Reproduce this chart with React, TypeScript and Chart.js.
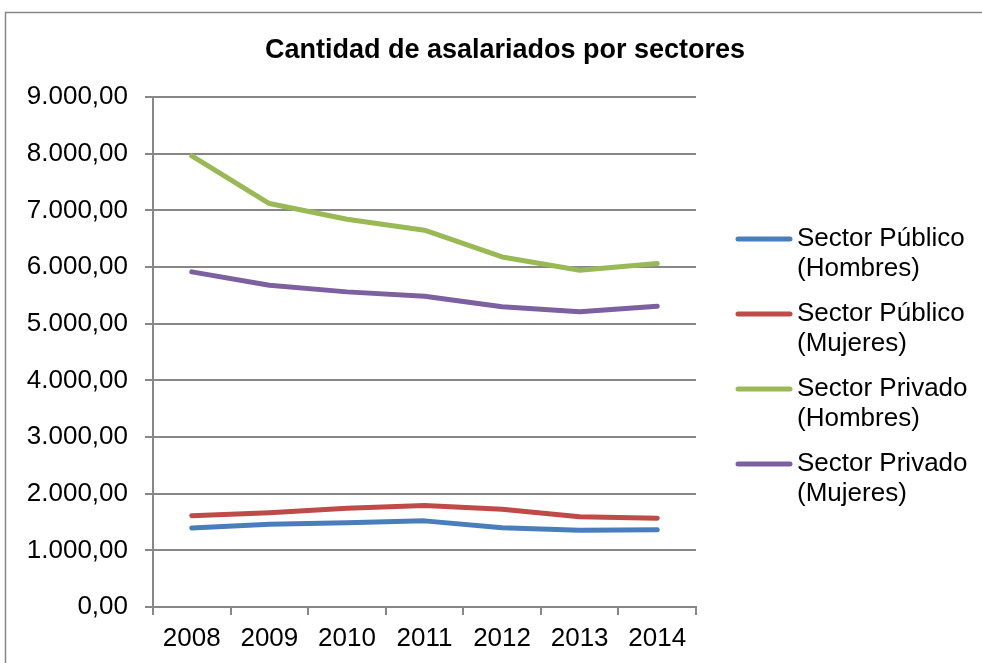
import React, { useEffect, useRef } from "react";
import { Chart, registerables } from "chart.js";

Chart.register(...registerables);

const years = ["2008", "2009", "2010", "2011", "2012", "2013", "2014"];
const publicoHombres = [1393, 1459, 1488, 1520, 1400, 1353, 1365];
const publicoMujeres = [1611, 1665, 1741, 1790, 1723, 1594, 1565];
const privadoHombres = [7960, 7120, 6843, 6649, 6178, 5943, 6061];
const privadoMujeres = [5914, 5679, 5561, 5485, 5297, 5209, 5309];

const seriesNames = [
  ["Sector Público", "(Hombres)"],
  ["Sector Público", "(Mujeres)"],
  ["Sector Privado", "(Hombres)"],
  ["Sector Privado", "(Mujeres)"],
];
const seriesColors = ["#4A7EBB", "#BE4B48", "#98B954", "#7D60A0"];
const titleText = "Cantidad de asalariados por sectores";

const FONT = "'Liberation Sans', Arial, sans-serif";

function fmt(v: number): string {
  const [i, d] = Math.abs(v).toFixed(2).split(".");
  const withDots = i.replace(/\B(?=(\d{3})+(?!\d))/g, ".");
  return (v < 0 ? "-" : "") + withDots + "," + d;
}

const decorPlugin = {
  id: "decor",
  beforeDraw(chart: any) {
    const ctx = chart.ctx;
    ctx.save();
    ctx.fillStyle = "#ffffff";
    ctx.fillRect(0, 0, chart.width, chart.height);
    ctx.restore();
  },
  afterDraw(chart: any) {
    const ctx = chart.ctx;
    ctx.save();
    // outer frame
    ctx.strokeStyle = "#878787";
    ctx.lineWidth = 1.5;
    ctx.strokeRect(5.5, 12.5, chart.width + 10, chart.height + 10);
    // title
    ctx.fillStyle = "#000000";
    ctx.font = `bold 27px ${FONT}`;
    ctx.textAlign = "center";
    ctx.textBaseline = "alphabetic";
    ctx.fillText(titleText, 505, 58);
    // legend
    ctx.font = `26px ${FONT}`;
    ctx.textAlign = "left";
    chart.data.datasets.forEach((ds: any, i: number) => {
      const yTop = 239 + i * 75;
      ctx.strokeStyle = ds.borderColor;
      ctx.lineWidth = 5;
      ctx.lineCap = "round";
      ctx.beginPath();
      ctx.moveTo(738, yTop);
      ctx.lineTo(790, yTop);
      ctx.stroke();
      const lines = seriesNames[i];
      lines.forEach((t, j) => {
        ctx.fillText(t, 797, yTop + 7 + j * 30);
      });
    });
    ctx.restore();
  },
};

export default function App() {
  const ref = useRef<HTMLCanvasElement | null>(null);
  useEffect(() => {
    document.body.style.margin = "0";
    const canvas = ref.current;
    if (!canvas) return;
    const seriesData = [publicoHombres, publicoMujeres, privadoHombres, privadoMujeres];
    const chart = new Chart(canvas, {
      type: "line",
      data: {
        labels: years,
        datasets: seriesData.map((d, i) => ({
          label: seriesNames[i].join(" "),
          data: d,
          borderColor: seriesColors[i],
          backgroundColor: seriesColors[i],
          borderWidth: 5,
          borderCapStyle: "round",
          borderJoinStyle: "round",
          pointRadius: 0,
          pointHoverRadius: 0,
          tension: 0,
          fill: false,
        })),
      },
      options: {
        responsive: false,
        animation: false,
        layout: { padding: { left: 0, top: 97, right: 286, bottom: 0 } },
        plugins: {
          legend: { display: false },
          title: { display: false },
          tooltip: { enabled: false },
        },
        scales: {
          x: {
            offset: true,
            grid: {
              offset: true,
              drawOnChartArea: false,
              drawTicks: true,
              tickLength: 8,
              color: "#878787",
              lineWidth: 2,
            },
            border: { display: true, color: "#878787", width: 2 },
            ticks: {
              color: "#000000",
              font: { family: FONT, size: 26 },
              padding: 8,
              maxRotation: 0,
              autoSkip: false,
            },
            afterFit(scale: any) {
              scale.height = 56;
            },
          },
          y: {
            min: 0,
            max: 9000,
            grid: {
              drawTicks: true,
              tickLength: 8,
              color: "#878787",
              lineWidth: 2,
            },
            border: { display: true, color: "#878787", width: 2 },
            ticks: {
              stepSize: 1000,
              color: "#000000",
              font: { family: FONT, size: 26 },
              padding: 17,
              callback: (v: any) => fmt(Number(v)),
            },
            afterFit(scale: any) {
              scale.width = 153;
            },
          },
        },
      },
      plugins: [decorPlugin],
    });
    return () => chart.destroy();
  }, []);
  return (
    <div style={{ position: "absolute", left: 0, top: 0, width: 982, height: 663 }}>
      <canvas ref={ref} width={982} height={663} style={{ display: "block" }} />
    </div>
  );
}
